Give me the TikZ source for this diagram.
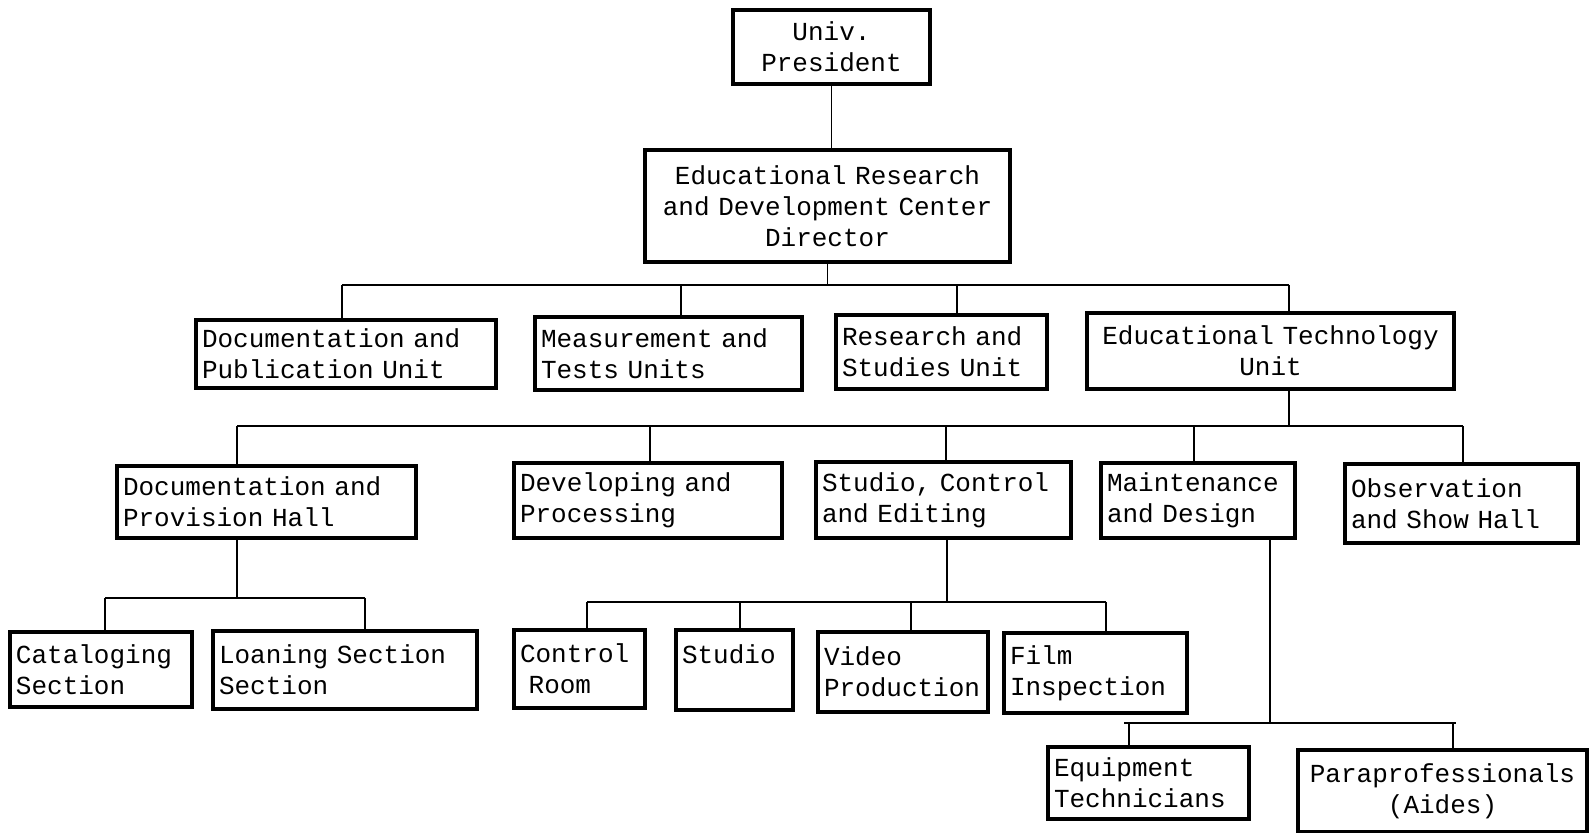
\documentclass[tikz,border=0pt]{standalone}
\usepackage{fontspec}
\newfontfamily\typewriter{Liberation Mono}
\newcommand\boxfont{\typewriter\fontsize{13}{15.5}\selectfont\spaceskip=10pt\relax}

\begin{document}
\begin{tikzpicture}[x=0.5pt,y=-0.5pt,
  box/.style={draw,line width=1.6pt,inner xsep=3pt,inner ysep=2pt,align=left,font=\boxfont},
  link/.style={line width=0.9pt}]
\useasboundingbox (0,0) rectangle (1592,833);

\node[box,align=center,text width=92.5pt,minimum height=37pt] (pres) at (831.5,47) {Univ.\\President};
\node[box,align=center,inner xsep=2pt,text width=178.5pt,minimum height=56pt] (dir) at (827.5,206) {Educational Research\\and Development Center\\Director};

\node[box,text width=144pt,minimum height=34pt] (docpub) at (346,354) {Documentation and\\Publication Unit};
\node[box,text width=127.5pt,minimum height=36.5pt] (meas) at (668.5,353.5) {Measurement and\\Tests Units};
\node[box,text width=99.5pt,minimum height=37pt] (res) at (941.5,352) {Research and\\Studies Unit};
\node[box,align=center,text width=177.5pt,minimum height=38pt] (edtech) at (1270.5,351) {Educational Technology\\Unit};

\node[box,text width=143.5pt,minimum height=36pt] (docprov) at (266.5,502) {Documentation and\\Provision Hall};
\node[box,text width=128pt,minimum height=37.5pt] (dev) at (648,500.5) {Developing and\\Processing};
\node[box,text width=121.5pt,minimum height=38pt] (studio) at (943.5,500) {Studio, Control\\and Editing};
\node[box,text width=91pt,minimum height=37.5pt] (maint) at (1198,500.5) {Maintenance\\and Design};
\node[box,text width=110.5pt,minimum height=39.5pt] (obs) at (1461.5,503.5) {Observation\\and Show Hall};

\node[box,text width=85pt,minimum height=37.5pt] (catal) at (101,669.5) {Cataloging\\Section};
\node[box,text width=126pt,minimum height=39pt] (loan) at (345,670) {Loaning Section\\Section};
\node[box,text width=59.5pt,minimum height=39pt] (ctrl) at (579.5,669) {Control\\\ Room};
\node[box,text width=52.5pt,minimum height=40pt] (stud) at (734.5,670) {Studio\\\mbox{}};
\node[box,text width=79pt,minimum height=40pt] (video) at (903,672) {Video\\Production};
\node[box,text width=85.5pt,minimum height=40pt] (film) at (1095.5,673) {Film\\Inspection};

\node[box,text width=94.5pt,minimum height=36pt] (equip) at (1148.5,783) {Equipment\\Technicians};
\node[box,align=center,text width=138.5pt,minimum height=41pt] (para) at (1442.5,791) {Paraprofessionals\\(Aides)};

\draw[link] (pres.south) -- (pres.south |- dir.north);

\coordinate (b1) at (827.5,285);
\coordinate (b1l) at (342,285);
\coordinate (b1r) at (1289,285);
\draw[link] (dir.south) -- (b1);
\draw[link] (b1l) -- (b1r);
\foreach \n/\x in {docpub/342,meas/681,res/957,edtech/1289}{
  \coordinate (t) at (\x,285);
  \draw[link] (t) -- (t |- \n.north);
}

\coordinate (b2) at (1289,426);
\coordinate (b2l) at (237,426);
\coordinate (b2r) at (1463,426);
\draw[link] (b2 |- edtech.south) -- (b2);
\draw[link] (b2l) -- (b2r);
\foreach \n/\x in {docprov/237,dev/650,studio/946,maint/1194,obs/1463}{
  \coordinate (t) at (\x,426);
  \draw[link] (t) -- (t |- \n.north);
}

\coordinate (b3) at (237,598);
\coordinate (b3l) at (105,598);
\coordinate (b3r) at (365,598);
\draw[link] (b3 |- docprov.south) -- (b3);
\draw[link] (b3l) -- (b3r);
\foreach \n/\x in {catal/105,loan/365}{
  \coordinate (t) at (\x,598);
  \draw[link] (t) -- (t |- \n.north);
}

\coordinate (b4) at (947,602);
\coordinate (b4l) at (587,602);
\coordinate (b4r) at (1106,602);
\draw[link] (b4 |- studio.south) -- (b4);
\draw[link] (b4l) -- (b4r);
\foreach \n/\x in {ctrl/587,stud/740,video/911,film/1106}{
  \coordinate (t) at (\x,602);
  \draw[link] (t) -- (t |- \n.north);
}

\coordinate (b5) at (1270,723);
\coordinate (b5l) at (1124,723);
\coordinate (b5r) at (1456,723);
\draw[link] (b5 |- maint.south) -- (b5);
\draw[link] (b5l) -- (b5r);
\foreach \n/\x in {equip/1129,para/1453}{
  \coordinate (t) at (\x,723);
  \draw[link] (t) -- (t |- \n.north);
}
\end{tikzpicture}
\end{document}
